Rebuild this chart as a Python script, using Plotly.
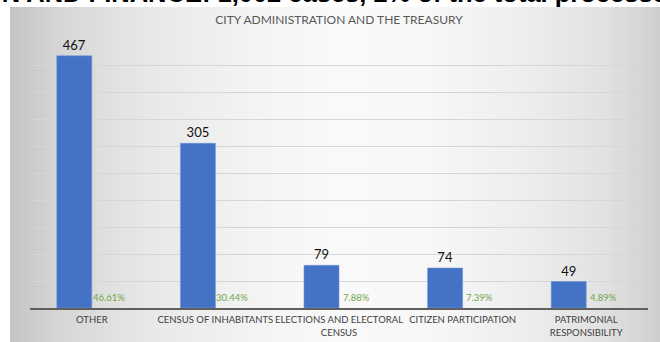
import plotly.graph_objects as go

# Cases handled per subject area
categories = [
    "OTHER",
    "CENSUS OF INHABITANTS",
    "ELECTIONS AND ELECTORAL<br>CENSUS",
    "CITIZEN PARTICIPATION",
    "PATRIMONIAL<br>RESPONSIBILITY",
]
cases = [467, 305, 79, 74, 49]
share_pct = [46.61, 30.44, 7.88, 7.39, 4.89]

chart_title = "CITY ADMINISTRATION AND THE TREASURY"
heading = "ADMINISTRATION AND FINANCE: 1,002 cases, 2% of the total processed"

W, H = 660, 342
L, R, T, B = 30, 12, 38, 34
pw, ph = W - L - R, H - T - B


def px_to_paper_x(px):
    return (px - L) / pw


def px_to_paper_y(py):
    return (H - B - py) / ph


fig = go.Figure()

fig.add_trace(go.Bar(
    x=categories,
    y=cases,
    width=0.283,
    offset=-0.283,
    marker=dict(color="#4472C4", line=dict(color="#6f93d6", width=0.6)),
    text=[str(v) for v in cases],
    textposition="outside",
    textfont=dict(family="Lato", size=13, color="#111111"),
    cliponaxis=False,
    hoverinfo="skip",
))

# Share-of-total labels sitting at the base of each category's right slot
annotations = []
for cat, pct in zip(categories, share_pct):
    annotations.append(dict(
        x=cat, y=0, xref="x", yref="y",
        xshift=17, yshift=3,
        yanchor="bottom", xanchor="center",
        text=f"{pct:.2f}%",
        showarrow=False,
        font=dict(family="Lato", size=9.5, color="#6fa64a"),
    ))

# Page heading above the chart panel
annotations.append(dict(
    x=px_to_paper_x(684), y=px_to_paper_y(9),
    xref="paper", yref="paper",
    xanchor="right", yanchor="bottom",
    text=f"<b>{heading}</b>",
    showarrow=False,
    font=dict(family="Liberation Sans", size=25.5, color="#000000"),
))

# Panel background: soft horizontal grey gradient
stops = [(10, 196), (60, 214), (150, 232), (250, 243), (330, 249),
         (420, 248), (520, 238), (600, 226), (640, 214), (660, 206)]


def shade(px):
    for (x0, c0), (x1, c1) in zip(stops, stops[1:]):
        if x0 <= px <= x1:
            return c0 + (c1 - c0) * (px - x0) / (x1 - x0)
    return stops[-1][1]


shapes = []
step = 4
y_top = px_to_paper_y(7)
y_bot = px_to_paper_y(H + 2)
for sx in range(10, W, step):
    g = int(round(shade(sx + step / 2)))
    shapes.append(dict(
        type="rect", xref="paper", yref="paper",
        x0=px_to_paper_x(sx), x1=px_to_paper_x(sx + step + 0.5),
        y0=y_bot, y1=y_top,
        fillcolor=f"rgb({g},{g},{g})", line=dict(width=0),
        layer="below",
    ))

fig.update_layout(
    width=W, height=H,
    margin=dict(l=L, r=R, t=T, b=B, autoexpand=False),
    paper_bgcolor="white",
    plot_bgcolor="rgba(0,0,0,0)",
    showlegend=False,
    bargap=0.43,
    title=dict(
        text=chart_title,
        x=0.5, xref="paper", xanchor="center",
        y=1 - 20 / H, yref="container", yanchor="middle",
        font=dict(family="Lato", size=12, color="#595959"),
    ),
    xaxis=dict(
        showgrid=False, automargin=False,
        showline=True, linecolor="#5f5f5f", linewidth=1.5,
        ticks="", tickangle=0, ticklabelstandoff=2,
        tickfont=dict(family="Lato", size=9.5, color="#404040"),
        fixedrange=True,
    ),
    yaxis=dict(
        range=[0, 500], dtick=50, automargin=False,
        showgrid=True, gridcolor="#d6d6d6", gridwidth=1,
        showticklabels=False, zeroline=False, ticks="",
        fixedrange=True,
    ),
    shapes=shapes,
    annotations=annotations,
)

fig.write_html("out.html")
